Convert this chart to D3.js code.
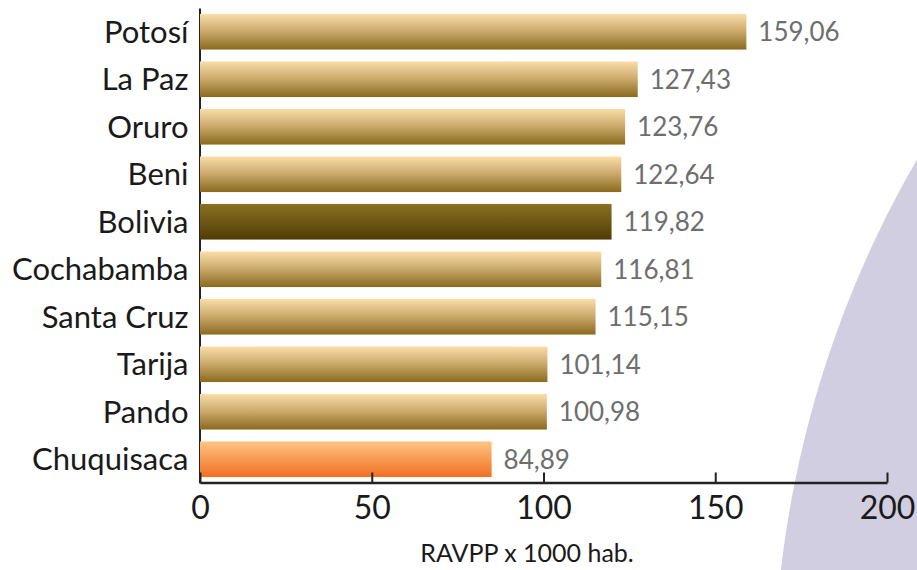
<!DOCTYPE html>
<html>
<head>
<meta charset="utf-8">
<script src="https://cdn.jsdelivr.net/npm/d3@7"></script>
<style>
html,body{margin:0;padding:0;background:#fff;overflow:hidden;}
svg{display:block;}
</style>
</head>
<body>
<svg id="chart" width="917" height="570"></svg>
<script>
const categories = ["Potosí","La Paz","Oruro","Beni","Bolivia","Cochabamba","Santa Cruz","Tarija","Pando","Chuquisaca"];
const values = [159.06,127.43,123.76,122.64,119.82,116.81,115.15,101.14,100.98,84.89];
const valueLabels = ["159,06","127,43","123,76","122,64","119,82","116,81","115,15","101,14","100,98","84,89"];
const barKind = ["gold","gold","gold","gold","dark","gold","gold","gold","gold","orange"];
const xTicks = [0,50,100,150,200];
const axisTitle = "RAVPP x 1000 hab.";

const svg = d3.select("#chart");
const FONT = "Lato, 'Noto Sans', sans-serif";

// background decorative circle
svg.append("circle").attr("cx",1833).attr("cy",691).attr("r",1059).attr("fill","#d0cee0");

const defs = svg.append("defs");
const grads = {
  gold:["#fbdda8","#c9a86a","#8a6a1e"],
  dark:["#8a7022","#6e5714","#4f3c05"],
  orange:["#fdc585","#f79a52","#f07022"]
};
Object.entries(grads).forEach(([k,c])=>{
  const g = defs.append("linearGradient").attr("id","g-"+k).attr("x1",0).attr("y1",0).attr("x2",0).attr("y2",1);
  g.append("stop").attr("offset","0%").attr("stop-color",c[0]);
  g.append("stop").attr("offset","50%").attr("stop-color",c[1]);
  g.append("stop").attr("offset","100%").attr("stop-color",c[2]);
});

const x = d3.scaleLinear().domain([0,200]).range([200,887]);
const y = d3.scaleBand().domain(categories).range([8,483]).paddingInner(0.25).paddingOuter(0.125);

// bars
svg.append("g").selectAll("rect").data(categories).join("rect")
  .attr("x", x(0))
  .attr("y", d=>y(d))
  .attr("width", (d,i)=>x(values[i])-x(0))
  .attr("height", y.bandwidth())
  .attr("fill", (d,i)=>"url(#g-"+barKind[i]+")");

// y axis
const yAxis = svg.append("g").attr("transform","translate(199.5,0)")
  .call(d3.axisLeft(y).tickSize(0).tickPadding(11));
yAxis.select(".domain").attr("stroke","#222").attr("stroke-width",2);
yAxis.selectAll("text").attr("font-family",FONT).attr("font-size",31).attr("fill","#1a1a1a").attr("dy","0.36em");
yAxis.lower();

// x axis
const xAxis = svg.append("g").attr("transform","translate(0,482.5)")
  .call(d3.axisBottom(x).tickValues(xTicks).tickSize(-10).tickSizeOuter(0).tickPadding(8).tickFormat(d3.format("d")));
xAxis.select(".domain").attr("stroke","#222").attr("stroke-width",2.5);
xAxis.selectAll(".tick line").attr("stroke","#222").attr("stroke-width",2);
xAxis.selectAll("text").attr("font-family",FONT).attr("font-size",32).attr("fill","#1a1a1a").attr("dy","0.9em");

// value labels
svg.append("g").selectAll("text").data(categories).join("text")
  .attr("x",(d,i)=>x(values[i])+12)
  .attr("y",d=>y(d)+y.bandwidth()/2)
  .attr("dy","0.36em")
  .attr("font-family",FONT).attr("font-size",26).attr("fill","#6e6e6e")
  .text((d,i)=>valueLabels[i]);

// axis title
svg.append("text").attr("x",527).attr("y",562)
  .attr("text-anchor","middle").attr("font-family",FONT).attr("font-size",25).attr("fill","#1a1a1a")
  .text(axisTitle);
</script>
</body>
</html>
